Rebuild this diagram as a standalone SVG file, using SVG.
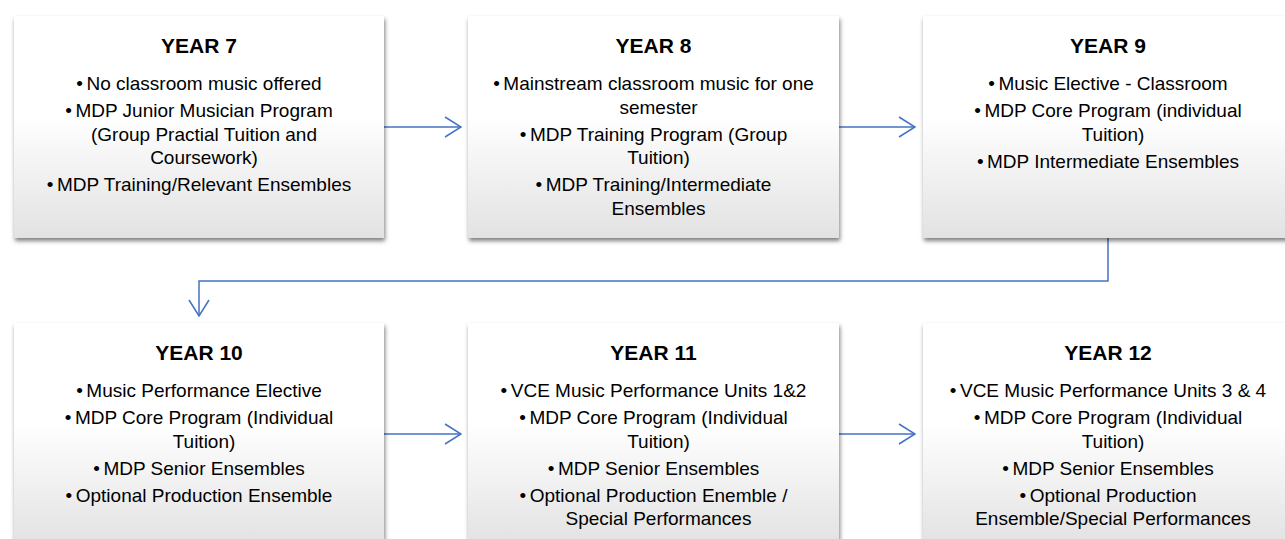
<svg xmlns="http://www.w3.org/2000/svg" width="1285" height="539" viewBox="0 0 1285 539">
<defs>
<linearGradient id="g" x1="0" y1="0" x2="0" y2="1">
<stop offset="0" stop-color="#ffffff"/>
<stop offset="0.45" stop-color="#ffffff"/>
<stop offset="1" stop-color="#e2e2e2"/>
</linearGradient>
<filter id="sh" x="-5%" y="-5%" width="112%" height="115%">
<feDropShadow dx="1" dy="3" stdDeviation="2" flood-color="#000" flood-opacity="0.5"/>
</filter>
<marker id="arr" viewBox="0 0 18 22" refX="17" refY="11" markerWidth="18" markerHeight="22" markerUnits="userSpaceOnUse" orient="auto">
<path d="M1,1 L17,11 L1,21" fill="none" stroke="#4472C4" stroke-width="1.5"/>
</marker>
</defs>
<style>
.box{fill:url(#g);filter:url(#sh);}
.t{font-family:"Liberation Sans",Arial,sans-serif;font-weight:bold;font-size:21px;fill:#000;text-anchor:middle;}
.b{font-family:"Liberation Sans",Arial,sans-serif;font-size:19px;fill:#000;text-anchor:middle;}
.c{stroke:#4472C4;stroke-width:1.5;fill:none;marker-end:url(#arr);}
</style>
<rect width="1285" height="539" fill="#fff"/>
<g id="connectors">
<path class="c" d="M384,127 H461"/>
<path class="c" d="M839,127 H915"/>
<path class="c" d="M1108,238 V281 H199 V316"/>
<path class="c" d="M384,434 H461"/>
<path class="c" d="M839,434 H915"/>
</g>
<g id="year7">
<rect class="box" x="14" y="16" width="370" height="222"/>
<text class="t" x="199" y="53">YEAR 7</text>
<text class="b" x="199" y="90">•<tspan dx="3.5">No classroom music offered</tspan></text>
<text class="b" x="199" y="117">•<tspan dx="3.5">MDP Junior Musician Program</tspan></text>
<text class="b" x="204" y="140.5">(Group Practial Tuition and</text>
<text class="b" x="204" y="164">Coursework)</text>
<text class="b" x="199" y="191">•<tspan dx="3.5">MDP Training/Relevant Ensembles</tspan></text>
</g>
<g id="year8">
<rect class="box" x="468" y="16" width="371" height="222"/>
<text class="t" x="653.5" y="53">YEAR 8</text>
<text class="b" x="653.5" y="90">•<tspan dx="3.5">Mainstream classroom music for one</tspan></text>
<text class="b" x="658.5" y="113.5">semester</text>
<text class="b" x="653.5" y="140.5">•<tspan dx="3.5">MDP Training Program (Group</tspan></text>
<text class="b" x="658.5" y="164">Tuition)</text>
<text class="b" x="653.5" y="191">•<tspan dx="3.5">MDP Training/Intermediate</tspan></text>
<text class="b" x="658.5" y="214.5">Ensembles</text>
</g>
<g id="year9">
<rect class="box" x="923" y="16" width="370" height="222"/>
<text class="t" x="1108" y="53">YEAR 9</text>
<text class="b" x="1108" y="90">•<tspan dx="3.5">Music Elective - Classroom</tspan></text>
<text class="b" x="1108" y="117">•<tspan dx="3.5">MDP Core Program (individual</tspan></text>
<text class="b" x="1113" y="140.5">Tuition)</text>
<text class="b" x="1108" y="167.5">•<tspan dx="3.5">MDP Intermediate Ensembles</tspan></text>
</g>
<g id="year10">
<rect class="box" x="14" y="323" width="370" height="222"/>
<text class="t" x="199" y="360">YEAR 10</text>
<text class="b" x="199" y="397">•<tspan dx="3.5">Music Performance Elective</tspan></text>
<text class="b" x="199" y="424">•<tspan dx="3.5">MDP Core Program (Individual</tspan></text>
<text class="b" x="204" y="447.5">Tuition)</text>
<text class="b" x="199" y="474.5">•<tspan dx="3.5">MDP Senior Ensembles</tspan></text>
<text class="b" x="199" y="501.5">•<tspan dx="3.5">Optional Production Ensemble</tspan></text>
</g>
<g id="year11">
<rect class="box" x="468" y="323" width="371" height="222"/>
<text class="t" x="653.5" y="360">YEAR 11</text>
<text class="b" x="653.5" y="397">•<tspan dx="3.5">VCE Music Performance Units 1&amp;2</tspan></text>
<text class="b" x="653.5" y="424">•<tspan dx="3.5">MDP Core Program (Individual</tspan></text>
<text class="b" x="658.5" y="447.5">Tuition)</text>
<text class="b" x="653.5" y="474.5">•<tspan dx="3.5">MDP Senior Ensembles</tspan></text>
<text class="b" x="653.5" y="501.5">•<tspan dx="3.5">Optional Production Enemble /</tspan></text>
<text class="b" x="658.5" y="525">Special Performances</text>
</g>
<g id="year12">
<rect class="box" x="923" y="323" width="370" height="222"/>
<text class="t" x="1108" y="360">YEAR 12</text>
<text class="b" x="1108" y="397">•<tspan dx="3.5">VCE Music Performance Units 3 &amp; 4</tspan></text>
<text class="b" x="1108" y="424">•<tspan dx="3.5">MDP Core Program (Individual</tspan></text>
<text class="b" x="1113" y="447.5">Tuition)</text>
<text class="b" x="1108" y="474.5">•<tspan dx="3.5">MDP Senior Ensembles</tspan></text>
<text class="b" x="1108" y="501.5">•<tspan dx="3.5">Optional Production</tspan></text>
<text class="b" x="1113" y="525">Ensemble/Special Performances</text>
</g>
</svg>
